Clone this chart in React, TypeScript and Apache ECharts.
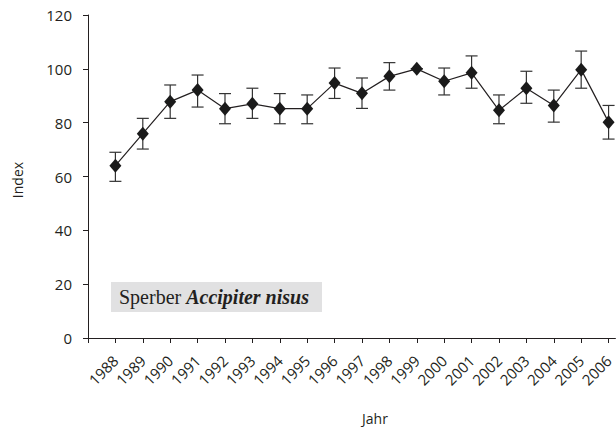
import React, { useEffect, useRef } from "react";
import * as echarts from "echarts";

const years = [1988, 1989, 1990, 1991, 1992, 1993, 1994, 1995, 1996, 1997, 1998, 1999, 2000, 2001, 2002, 2003, 2004, 2005, 2006];
const indexValues = [64.0, 75.9, 87.8, 92.1, 85.2, 87.0, 85.2, 85.2, 94.7, 90.9, 97.2, 100, 95.4, 98.5, 84.6, 92.8, 86.4, 99.7, 80.2];
const upperValues = [69.0, 81.6, 94.0, 97.7, 90.8, 92.8, 90.8, 90.3, 100.3, 96.6, 102.3, 100, 100.3, 104.8, 90.3, 99.1, 92.1, 106.6, 86.4];
const lowerValues = [58.2, 70.2, 81.6, 85.8, 79.6, 81.6, 79.6, 79.6, 89.0, 85.3, 92.1, 100, 90.3, 92.8, 79.6, 87.2, 80.2, 92.8, 73.9];
const yTicks = [0, 20, 40, 60, 80, 100, 120];
const xTickYears = [1987, ...years];

const FONT = "'Open Sans', 'Noto Sans', sans-serif";
const SERIF = "'Liberation Serif', 'DejaVu Serif', serif";
const INK = "#231f20";

export default function App() {
  const ref = useRef<HTMLDivElement>(null);
  useEffect(() => {
    document.body.style.margin = "0";
    const chart = echarts.init(ref.current!, null, { renderer: "svg" });
    const lineData = years.map((y, i) => [y, indexValues[i]]);
    const errData = years.map((y, i) => [y, lowerValues[i], upperValues[i]]);
    chart.setOption({
      animation: false,
      grid: { left: 88, top: 15, right: 0, bottom: 89 },
      xAxis: {
        type: "value",
        min: 1987,
        max: 2006.25,
        interval: 1,
        splitLine: { show: false },
        axisLine: { show: true, lineStyle: { color: INK, width: 1 } },
        axisTick: { show: true, length: 5, lineStyle: { color: INK }, customValues: xTickYears },
        axisLabel: {
          customValues: years,
          rotate: 45,
          margin: 20,
          fontFamily: FONT,
          fontSize: 15,
          color: INK,
          formatter: (v: number) => String(v),
        },
      },
      yAxis: {
        type: "value",
        min: yTicks[0],
        max: yTicks[yTicks.length - 1],
        interval: 20,
        splitLine: { show: false },
        axisLine: { show: true, lineStyle: { color: INK, width: 1 } },
        axisTick: { show: true, length: 5, lineStyle: { color: INK } },
        axisLabel: { margin: 16, fontFamily: FONT, fontSize: 15, color: INK },
      },
      graphic: [
        {
          type: "text",
          x: 17,
          y: 180,
          rotation: Math.PI / 2,
          style: { text: "Index", fontFamily: FONT, fontSize: 14, fill: INK, align: "center", verticalAlign: "middle" },
        },
        {
          type: "text",
          x: 375,
          y: 418,
          style: { text: "Jahr", fontFamily: FONT, fontSize: 14, fill: INK, align: "center", verticalAlign: "middle" },
        },
        {
          type: "rect",
          shape: { x: 111, y: 282, width: 211, height: 30 },
          style: { fill: "#e1e1e2" },
        },
        {
          type: "text",
          x: 119,
          y: 297,
          style: {
            text: "{r|Sperber }{b|Accipiter nisus}",
            verticalAlign: "middle",
            rich: {
              r: { fontFamily: SERIF, fontSize: 20, fill: INK },
              b: { fontFamily: SERIF, fontSize: 20, fontWeight: "bold", fontStyle: "italic", fill: INK },
            },
          },
        },
      ],
      series: [
        {
          type: "custom",
          data: errData,
          z: 1,
          renderItem: (params: any, api: any) => {
            const x = api.value(0);
            const lo = api.coord([x, api.value(1)]);
            const hi = api.coord([x, api.value(2)]);
            const hw = 6;
            const st = { stroke: "#333", lineWidth: 1.2 };
            return {
              type: "group",
              children: [
                { type: "line", shape: { x1: lo[0], y1: lo[1], x2: hi[0], y2: hi[1] }, style: st },
                { type: "line", shape: { x1: hi[0] - hw, y1: hi[1], x2: hi[0] + hw, y2: hi[1] }, style: st },
                { type: "line", shape: { x1: lo[0] - hw, y1: lo[1], x2: lo[0] + hw, y2: lo[1] }, style: st },
              ],
            };
          },
        },
        {
          type: "line",
          data: lineData,
          z: 2,
          symbol: "diamond",
          symbolSize: [12, 14],
          lineStyle: { color: "#231f20", width: 1.2 },
          itemStyle: { color: "#1a1a1a" },
          clip: false,
        },
      ],
    });
    return () => chart.dispose();
  }, []);
  return <div ref={ref} style={{ position: "absolute", left: 0, top: 0, width: 616, height: 427 }} />;
}
